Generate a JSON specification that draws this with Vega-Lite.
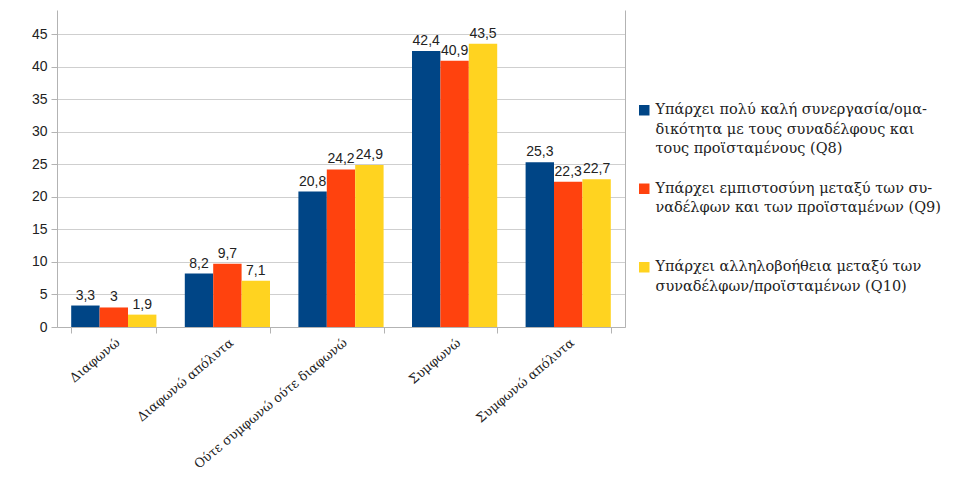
{
  "$schema": "https://vega.github.io/schema/vega-lite/v6.json",
  "autosize": {"type": "none"},
  "width": 568,
  "height": 317,
  "padding": {"left": 57, "top": 10, "right": 335, "bottom": 150},
  "background": "white",
  "config": {
    "locale": {"number": {"decimal": ",", "thousands": ".", "grouping": [3], "currency": ["", "€"]}},
    "view": {"stroke": null},
    "font": "Liberation Sans",
    "style": {"guide-label": {"lineHeight": 19.5}}
  },
  "data": {
    "values": [
      {"cat": "Διαφωνώ", "s": "Q8", "v": 3.3},
      {"cat": "Διαφωνώ", "s": "Q9", "v": 3},
      {"cat": "Διαφωνώ", "s": "Q10", "v": 1.9},
      {"cat": "Διαφωνώ απόλυτα", "s": "Q8", "v": 8.2},
      {"cat": "Διαφωνώ απόλυτα", "s": "Q9", "v": 9.7},
      {"cat": "Διαφωνώ απόλυτα", "s": "Q10", "v": 7.1},
      {"cat": "Ούτε συμφωνώ ούτε διαφωνώ", "s": "Q8", "v": 20.8},
      {"cat": "Ούτε συμφωνώ ούτε διαφωνώ", "s": "Q9", "v": 24.2},
      {"cat": "Ούτε συμφωνώ ούτε διαφωνώ", "s": "Q10", "v": 24.9},
      {"cat": "Συμφωνώ", "s": "Q8", "v": 42.4},
      {"cat": "Συμφωνώ", "s": "Q9", "v": 40.9},
      {"cat": "Συμφωνώ", "s": "Q10", "v": 43.5},
      {"cat": "Συμφωνώ απόλυτα", "s": "Q8", "v": 25.3},
      {"cat": "Συμφωνώ απόλυτα", "s": "Q9", "v": 22.3},
      {"cat": "Συμφωνώ απόλυτα", "s": "Q10", "v": 22.7}
    ]
  },
  "encoding": {
    "x": {
      "field": "cat", "type": "nominal", "sort": null,
      "scale": {"paddingInner": 0.25, "paddingOuter": 0.125},
      "axis": {
        "title": null, "labelAngle": -40, "labelAlign": "right", "labelBaseline": "top",
        "labelFont": "DejaVu Serif", "labelFontSize": 12.8, "labelColor": "#222", "labelLimit": 400,
        "tickBand": "extent", "tickColor": "#b3b3b3", "tickSize": 6,
        "domainColor": "#b3b3b3", "labelPadding": 3
      }
    },
    "xOffset": {"field": "s", "type": "nominal", "sort": ["Q8", "Q9", "Q10"]},
    "y": {
      "field": "v", "type": "quantitative",
      "scale": {"domain": [0, 48.7], "nice": false},
      "axis": {
        "title": null, "values": [0, 5, 10, 15, 20, 25, 30, 35, 40, 45],
        "labelFontSize": 14, "labelColor": "#222", "gridColor": "#cfcfcf",
        "domainColor": "#b3b3b3", "tickColor": "#b3b3b3", "tickSize": 6, "labelPadding": 4
      }
    }
  },
  "layer": [
    {
      "mark": {"type": "bar"},
      "encoding": {
        "color": {
          "field": "s", "type": "nominal",
          "scale": {"domain": ["Q8", "Q9", "Q10"], "range": ["#004586", "#ff420e", "#ffd320"]},
          "legend": {
            "title": null, "orient": "none", "legendX": 580, "legendY": 93,
            "symbolType": "square", "symbolSize": 110, "symbolStrokeWidth": 0,
            "labelFont": "DejaVu Serif", "labelFontSize": 14.5, "labelColor": "#222",
            "labelLimit": 400, "rowPadding": 24.5, "labelOffset": 4,
            "labelExpr": "datum.value == 'Q8' ? ['Υπάρχει πολύ καλή συνεργασία/ομα-', 'δικότητα με τους συναδέλφους και', 'τους προϊσταμένους (Q8)'] : datum.value == 'Q9' ? ['Υπάρχει εμπιστοσύνη μεταξύ των συ-', 'ναδέλφων και των προϊσταμένων (Q9)', ''] : ['Υπάρχει αλληλοβοήθεια μεταξύ των', 'συναδέλφων/προϊσταμένων (Q10)', '']"
          }
        }
      }
    },
    {
      "mark": {"type": "text", "baseline": "bottom", "dy": -3, "fontSize": 14, "color": "#222"},
      "encoding": {
        "text": {"field": "v", "type": "quantitative", "format": ".3~g"},
        "y": {
          "field": "v", "type": "quantitative",
          "scale": {"domain": [0, 48.7], "nice": false},
          "axis": {"orient": "right", "labels": false, "ticks": false, "grid": false, "title": null, "domainColor": "#b3b3b3"}
        }
      }
    }
  ],
  "resolve": {"axis": {"y": "independent"}}
}
